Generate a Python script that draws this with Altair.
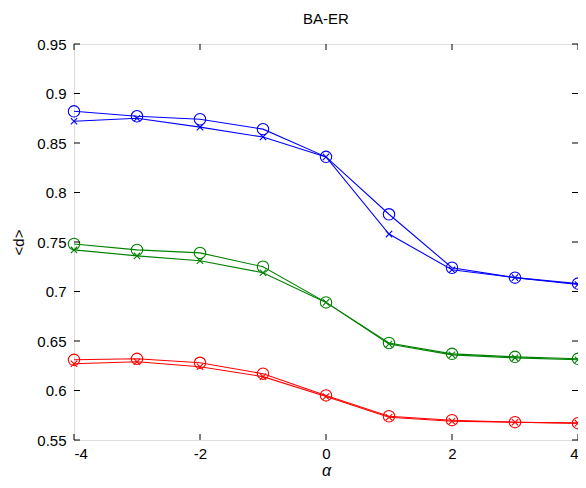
import altair as alt
import pandas as pd

alpha = [-4, -3, -2, -1, 0, 1, 2, 3, 4]
blue_o = [0.882, 0.877, 0.874, 0.864, 0.836, 0.778, 0.724, 0.714, 0.708]
blue_x = [0.872, 0.875, 0.866, 0.856, 0.836, 0.758, 0.722, 0.714, 0.707]
green_o = [0.748, 0.742, 0.739, 0.725, 0.689, 0.648, 0.637, 0.634, 0.632]
green_x = [0.742, 0.736, 0.731, 0.719, 0.689, 0.647, 0.636, 0.633, 0.631]
red_o = [0.631, 0.632, 0.628, 0.617, 0.595, 0.574, 0.570, 0.568, 0.567]
red_x = [0.627, 0.629, 0.624, 0.614, 0.594, 0.573, 0.569, 0.568, 0.567]

x_ticks = [-4, -2, 0, 2, 4]
y_ticks = [0.55, 0.6, 0.65, 0.7, 0.75, 0.8, 0.85, 0.9, 0.95]

series = {
    ("blue", "o"): blue_o, ("blue", "x"): blue_x,
    ("green", "o"): green_o, ("green", "x"): green_x,
    ("red", "o"): red_o, ("red", "x"): red_x,
}
rows = []
for (c, m), vals in series.items():
    for a, v in zip(alpha, vals):
        rows.append({"alpha": a, "d": v, "grp": c, "marker": m, "series": c + m})
df = pd.DataFrame(rows)

W, H = 504, 396
font = "Liberation Sans"

xs = alt.Scale(domain=[-4, 4], nice=False, zero=False)
ys = alt.Scale(domain=[0.55, 0.95], nice=False, zero=False)
cs = alt.Scale(domain=["blue", "green", "red"], range=["#0000ff", "#008000", "#ff0000"])

xaxis = alt.Axis(values=x_ticks, tickSize=0, grid=False, domain=False, labelExpr="datum.value",
                 labelFont=font, labelFontSize=15, labelColor="#000", labelPadding=6,
                 titleFont=font, titleFontSize=16, titleFontStyle="italic", titleFontWeight="normal",
                 titleColor="#000", titlePadding=1)
yaxis = alt.Axis(values=y_ticks, tickSize=0, grid=False, domain=False, format=".2~f",
                 labelFont=font, labelFontSize=15, labelColor="#000", labelPadding=8,
                 titleFont=font, titleFontSize=15, titleFontWeight="normal", titleColor="#000",
                 titlePadding=10)

base = alt.Chart(df)
lines = base.mark_line(strokeWidth=1.1).encode(
    x=alt.X("alpha:Q", scale=xs, axis=xaxis, title="α"),
    y=alt.Y("d:Q", scale=ys, axis=yaxis, title="<d>"),
    color=alt.Color("grp:N", scale=cs, legend=None),
    detail="series:N",
)
circles = base.transform_filter("datum.marker == 'o'").mark_point(
    shape="circle", filled=False, size=130, strokeWidth=1.1, opacity=1).encode(
    x=alt.X("alpha:Q", scale=xs), y=alt.Y("d:Q", scale=ys),
    color=alt.Color("grp:N", scale=cs, legend=None))
crosses = base.transform_filter("datum.marker == 'x'").mark_point(
    shape="M-1,-1L1,1M-1,1L1,-1", filled=False, size=40, strokeWidth=1.1, opacity=1).encode(
    x=alt.X("alpha:Q", scale=xs), y=alt.Y("d:Q", scale=ys),
    color=alt.Color("grp:N", scale=cs, legend=None))

xt = pd.DataFrame({"t": x_ticks})
yt = pd.DataFrame({"t": y_ticks})
tb = alt.Chart(xt).mark_rule(color="black", strokeWidth=1).encode(
    x=alt.X("t:Q", scale=xs), y=alt.value(0), y2=alt.value(6))
bb = alt.Chart(xt).mark_rule(color="black", strokeWidth=1).encode(
    x=alt.X("t:Q", scale=xs), y=alt.value(H), y2=alt.value(H - 6))
lt = alt.Chart(yt).mark_rule(color="black", strokeWidth=1).encode(
    y=alt.Y("t:Q", scale=ys), x=alt.value(0), x2=alt.value(6))
rt = alt.Chart(yt).mark_rule(color="black", strokeWidth=1).encode(
    y=alt.Y("t:Q", scale=ys), x=alt.value(W), x2=alt.value(W - 6))

chart = alt.layer(lines, circles, crosses, tb, bb, lt, rt).properties(
    width=W, height=H,
    title=alt.TitleParams("BA-ER", font=font, fontSize=15, fontWeight="normal", color="#000", offset=10),
    autosize=alt.AutoSizeParams(type="none"),
    padding={"left": 66, "top": 36, "right": 0, "bottom": 40},
).configure_view(stroke="black", strokeWidth=1).configure(background="white")

chart.save("out.html", embed_options={"renderer": "svg", "actions": False})
